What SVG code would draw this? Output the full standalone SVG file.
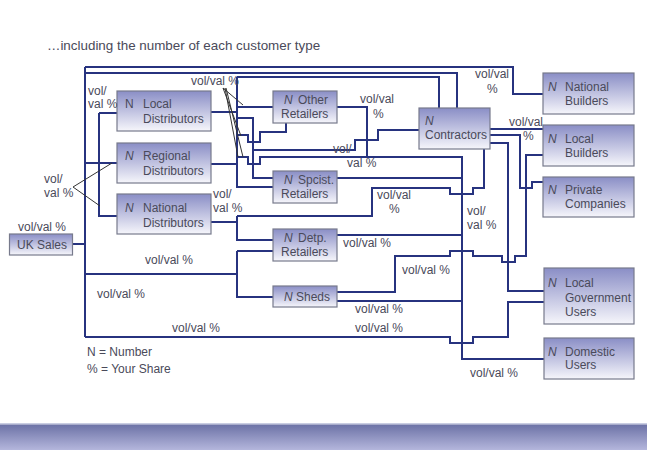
<svg xmlns="http://www.w3.org/2000/svg" width="647" height="450" viewBox="0 0 647 450">
<defs>
<linearGradient id="box" x1="0" y1="0" x2="0" y2="1">
<stop offset="0" stop-color="#8a8ec6"/>
<stop offset="1" stop-color="#f6f6fb"/>
</linearGradient>
<linearGradient id="band" x1="0" y1="0" x2="0" y2="1">
<stop offset="0" stop-color="#6c72a6"/>
<stop offset="1" stop-color="#b4b6dc"/>
</linearGradient>
</defs>
<style>
.b{fill:url(#box);stroke:#777a8c;stroke-width:1.2}
.t{font-family:"Liberation Sans",Arial,sans-serif;font-size:12px;fill:#4a4a5a}
.i{font-style:italic}
.c{fill:none;stroke:#27337f;stroke-width:2;stroke-linejoin:miter}
.l{fill:none;stroke:#333;stroke-width:1}
</style>
<rect width="647" height="450" fill="#fff"/>
<text class="t" x="47" y="50" style="font-size:13.4px">…including the number of each customer type</text>

<g id="connectors">
<path class="c" d="M85,67 V337"/>
<path class="c" d="M73,244 H85"/>
<path class="c" d="M85,67 H513 V94 H543"/>
<path class="c" d="M85,73 H457 V108"/>
<path class="c" d="M237,77 H439 V108"/>
<path class="c" d="M85,163 H117 M99,113 H117 M99,113 V216 H117"/>
<path class="c" d="M211,112 H237 M211,164 H237"/>
<path class="c" d="M237,77 V187 H273 M237,107 H273"/>
<path class="c" d="M237,118 H253 V178 H273"/>
<path class="c" d="M286,123 V132 H260 V142 H248 V135 H237"/>
<path class="c" d="M237,157 H248 V164 H260 V157 H462 V359 H544"/>
<path class="c" d="M253,150 H355 V140 H378 V130 H419"/>
<path class="c" d="M337,107 H367 V157"/>
<path class="c" d="M337,178 H462"/>
<path class="c" d="M211,222 H237 M237,216 V240 H273 M237,216 H372 V188 H450 V194 H473 V188 H484 V149"/>
<path class="c" d="M337,235 H462"/>
<path class="c" d="M85,274 H237 M237,251 V297 H273 M237,251 H273"/>
<path class="c" d="M337,292 H395 V256 H450 V251 H473 V256 H502 V262 H515 V256 H526 V155 H543"/>
<path class="c" d="M337,301 H462"/>
<path class="c" d="M85,337 H450 V343 H473 V337 H508 V302 H544"/>
<path class="c" d="M490,129 H543 M490,135 H520 V188 H532 V182 H543 M490,143 H508 V291 H544"/>
<path class="l" d="M73,187 L112,163 M73,187 L100,206"/>
<path class="l" d="M223,88 L243,105 M223,88 L241,136 M225,88 L238,157 M226,88 L243,157"/>
</g>

<g id="uk-sales"><rect class="b" x="9.5" y="234" width="63" height="21"/><text class="t" x="17" y="249">UK Sales</text></g>
<g id="local-distributors"><rect class="b" x="117" y="91" width="94" height="40"/><text class="t" x="125" y="108">N</text><text class="t" x="143" y="108">Local</text><text class="t" x="143" y="123">Distributors</text></g>
<g id="regional-distributors"><rect class="b" x="117" y="143" width="94" height="40"/><text class="t i" x="125" y="160">N</text><text class="t" x="143" y="160">Regional</text><text class="t" x="143" y="175">Distributors</text></g>
<g id="national-distributors"><rect class="b" x="117" y="194" width="94" height="40"/><text class="t i" x="125" y="212">N</text><text class="t" x="143" y="212">National</text><text class="t" x="143" y="227">Distributors</text></g>
<g id="other-retailers"><rect class="b" x="273" y="91" width="64" height="32"/><text class="t i" x="284" y="104">N</text><text class="t" x="298" y="104">Other</text><text class="t" x="281" y="118">Retailers</text></g>
<g id="spcist-retailers"><rect class="b" x="273" y="171" width="64" height="32"/><text class="t i" x="284" y="184">N</text><text class="t" x="298" y="184">Spcist.</text><text class="t" x="281" y="198">Retailers</text></g>
<g id="detp-retailers"><rect class="b" x="273" y="229" width="64" height="32"/><text class="t i" x="284" y="242">N</text><text class="t" x="298" y="242">Detp.</text><text class="t" x="281" y="256">Retailers</text></g>
<g id="sheds"><rect class="b" x="273" y="286" width="64" height="21"/><text class="t i" x="284" y="301">N</text><text class="t" x="296" y="301">Sheds</text></g>
<g id="contractors"><rect class="b" x="419" y="108" width="71" height="41"/><text class="t i" x="425" y="125">N</text><text class="t" x="425" y="139">Contractors</text></g>
<g id="national-builders"><rect class="b" x="543" y="73" width="91" height="41"/><text class="t i" x="548" y="91">N</text><text class="t" x="565" y="91">National</text><text class="t" x="565" y="105">Builders</text></g>
<g id="local-builders"><rect class="b" x="543" y="125" width="91" height="41"/><text class="t i" x="548" y="143">N</text><text class="t" x="565" y="143">Local</text><text class="t" x="565" y="157">Builders</text></g>
<g id="private-companies"><rect class="b" x="543" y="177" width="91" height="40"/><text class="t i" x="548" y="194">N</text><text class="t" x="565" y="194">Private</text><text class="t" x="565" y="208">Companies</text></g>
<g id="local-government-users"><rect class="b" x="544" y="268" width="90" height="56"/><text class="t i" x="548" y="287">N</text><text class="t" x="565" y="287">Local</text><text class="t" x="565" y="302">Government</text><text class="t" x="565" y="316">Users</text></g>
<g id="domestic-users"><rect class="b" x="544" y="338" width="90" height="41"/><text class="t i" x="548" y="356">N</text><text class="t" x="565" y="356">Domestic</text><text class="t" x="565" y="369">Users</text></g>

<g id="labels">
<text class="t" x="18" y="231">vol/val %</text>
<text class="t" x="88" y="95">vol/</text><text class="t" x="88" y="108">val %</text>
<text class="t" x="44" y="183">vol/</text><text class="t" x="44" y="197">val %</text>
<text class="t" x="191" y="85">vol/val %</text>
<text class="t" x="360" y="103">vol/val</text><text class="t" x="373" y="118">%</text>
<text class="t" x="333" y="153">vol/</text><text class="t" x="347" y="167">val %</text>
<text class="t" x="475" y="78">vol/val</text><text class="t" x="487" y="93">%</text>
<text class="t" x="509" y="126">vol/val</text><text class="t" x="523" y="140">%</text>
<text class="t" x="213" y="198">vol/</text><text class="t" x="213" y="212">val %</text>
<text class="t" x="377" y="199">vol/val</text><text class="t" x="389" y="213">%</text>
<text class="t" x="467" y="215">vol/</text><text class="t" x="467" y="229">val %</text>
<text class="t" x="343" y="247">vol/val %</text>
<text class="t" x="145" y="264">vol/val %</text>
<text class="t" x="402" y="274">vol/val %</text>
<text class="t" x="97" y="298">vol/val %</text>
<text class="t" x="355" y="313">vol/val %</text>
<text class="t" x="172" y="332">vol/val %</text>
<text class="t" x="355" y="332">vol/val %</text>
<text class="t" x="470" y="377">vol/val %</text>
<text class="t" x="87" y="356">N = Number</text>
<text class="t" x="87" y="373">% = Your Share</text>
</g>

<rect x="0" y="423" width="647" height="1.5" fill="#c9cde2"/>
<rect x="0" y="424.5" width="647" height="25.5" fill="url(#band)"/>
</svg>
